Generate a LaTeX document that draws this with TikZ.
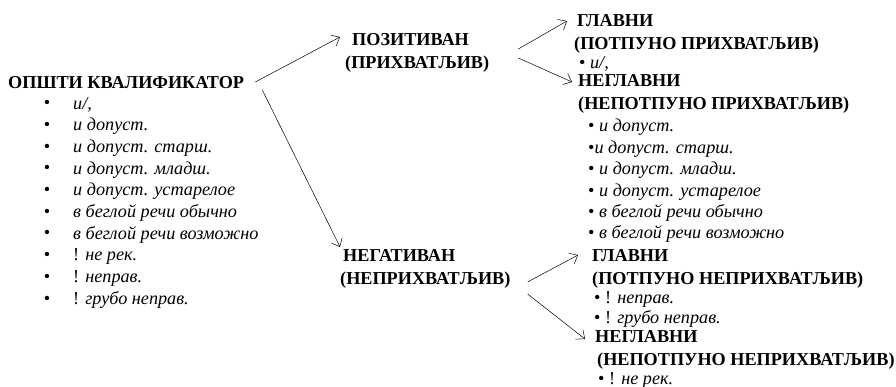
\documentclass[tikz,border=0pt]{standalone}
\usepackage{fontspec}
\setmainfont{Liberation Serif}
\usetikzlibrary{arrows.meta,calc}

\tikzset{
  head/.style={anchor=west, inner sep=0pt, align=left, font=\bfseries},
  item/.style={anchor=west, inner sep=0pt, font=\itshape},
  itemlist/.style={item, align=left, font=\fontsize{18.2}{#1}\selectfont\itshape},
  link/.style={-{Straight Barb[length=7pt,width=12pt]}, line width=0.5pt}
}

\begin{document}
\begin{tikzpicture}[x=1pt, y=-1pt]

  \fontsize{18.2}{22.5}\selectfont

  \useasboundingbox (0,0) rectangle (896,387);

  % left column
  \node[head] (opsti) at (8,83) {ОПШТИ КВАЛИФИКАТОР};
  \foreach \t [count=\i] in {{и/,}, {и допуст.}, {и допуст. старш.}, {и допуст. младш.},
      {и допуст. устарелое}, {в беглой речи обычно}, {в беглой речи возможно},
      {\upshape! }не рек., {\upshape! }неправ., {\upshape! }грубо неправ.}
  {
    \node[inner sep=0pt] (b\i) at (47, 83+21.7*\i) {\textbullet};
    \node[item] (q\i) at (73, 83+21.7*\i) {\t};
  }

  % middle
  \node[head] (poz) at (345,53) {\hspace*{7pt}ПОЗИТИВАН\\(ПРИХВАТЉИВ)};
  \node[head] (neg) at (340,269) {\hspace*{3pt}НЕГАТИВАН\\(НЕПРИХВАТЉИВ)};

  % right, upper
  \node[head] (glP) at (574,34) {\hspace*{3pt}ГЛАВНИ\\(ПОТПУНО ПРИХВАТЉИВ)};
  \node[item] (uP) at (579,64) {\upshape\textbullet\ \itshape и/,};
  \node[head] (ngP) at (578,94) {НЕГЛАВНИ\\(НЕПОТПУНО ПРИХВАТЉИВ)};
  \node[itemlist=21.4] (lP) at (588,181) {\upshape\textbullet\ \itshape и допуст.\\
      \upshape\textbullet\itshape и допуст. старш.\\
      \upshape\textbullet\ \itshape и допуст. младш.\\
      \upshape\textbullet\ \itshape и допуст. устарелое\\
      \upshape\textbullet\ \itshape в беглой речи обычно\\
      \upshape\textbullet\ \itshape в беглой речи возможно};

  % right, lower
  \node[head] (glN) at (592,269) {ГЛАВНИ\\(ПОТПУНО НЕПРИХВАТЉИВ)};
  \node[itemlist=20] (lN) at (594,310) {\upshape\textbullet\ ! \itshape неправ.\\
      \upshape\textbullet\ ! \itshape грубо неправ.};
  \node[head] (ngN) at (595,350) {НЕГЛАВНИ\\\hspace*{2pt}(НЕПОТПУНО НЕПРИХВАТЉИВ)};
  \node[item] (uN) at (598,380) {\upshape\textbullet\ ! \itshape не рек.};

  \draw[link] ($(opsti.east)+(11,-1)$) -- ($(poz.west)+(-5,-16)$); %% opsti->poz
  \draw[link] ($(opsti.east)+(18,7)$) -- ($(neg.west)+(0,-22)$); %% opsti->neg
  \draw[link] ($(poz.east)+(29,-4)$) -- ($(glP.west)+(-7,-13)$); %% poz->glP
  \draw[link] ($(poz.east)+(29,5)$) -- ($(ngP.west)+(-6,-12)$); %% poz->ngP
  \draw[link] ($(neg.east)+(17,13)$) -- ($(glN.west)+(-14,-14)$); %% neg->glN
  \draw[link] ($(neg.east)+(17,25)$) -- ($(ngN.west)+(-10,-11)$); %% neg->ngN
\end{tikzpicture}
\end{document}
